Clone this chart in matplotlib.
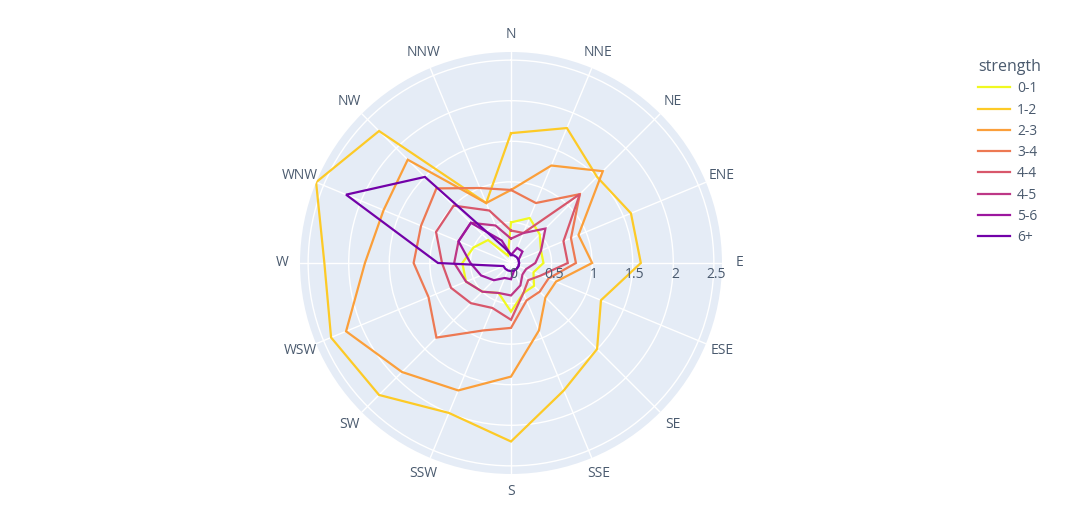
import numpy as np
import matplotlib
matplotlib.use("Agg")
import matplotlib.pyplot as plt
from matplotlib.transforms import offset_copy

# wind rose data (frequency per direction, one list per strength class)
directions = ["N", "NNE", "NE", "ENE", "E", "ESE", "SE", "SSE",
              "S", "SSW", "SW", "WSW", "W", "WNW", "NW", "NNW"]
strengths = ["0-1", "1-2", "2-3", "3-4", "4-4", "4-5", "5-6", "6+"]

freq_0_1 = [0.5, 0.6, 0.5, 0.4, 0.4, 0.3, 0.4, 0.4, 0.6, 0.4, 0.5, 0.6, 0.6, 0.5, 0.4, 0.1]
freq_1_2 = [1.6, 1.8, 1.5, 1.6, 1.6, 1.2, 1.5, 1.7, 2.2, 2.0, 2.3, 2.4, 2.3, 2.6, 2.3, 0.8]
freq_2_3 = [0.9, 1.3, 1.6, 0.9, 1.0, 0.6, 0.6, 0.9, 1.4, 1.7, 1.9, 2.2, 1.8, 1.7, 1.8, 0.8]
freq_3_4 = [0.9, 0.8, 1.2, 0.8, 0.8, 0.5, 0.5, 0.5, 0.8, 0.9, 1.3, 1.1, 1.2, 1.2, 1.3, 1.0]
freq_4_4 = [0.4, 0.4, 1.2, 0.7, 0.7, 0.4, 0.3, 0.4, 0.7, 0.6, 0.7, 0.8, 0.85, 1.0, 1.0, 0.7]
freq_4_5 = [0.3, 0.4, 0.6, 0.4, 0.3, 0.2, 0.2, 0.3, 0.4, 0.4, 0.5, 0.6, 0.7, 0.7, 0.7, 0.5]
freq_5_6 = [0.1, 0.2, 0.2, 0.1, 0.1, 0.1, 0.1, 0.1, 0.2, 0.2, 0.3, 0.4, 0.5, 0.7, 0.7, 0.3]
freq_6p = [0.1, 0.1, 0.1, 0.1, 0.1, 0.1, 0.1, 0.1, 0.1, 0.1, 0.1, 0.1, 0.9, 2.2, 1.5, 0.2]

series = [freq_0_1, freq_1_2, freq_2_3, freq_3_4, freq_4_4, freq_4_5, freq_5_6, freq_6p]
colors = ["#f0f921", "#fdca26", "#fb9f3a", "#ed7953", "#d8576b", "#bd3786", "#9c179e", "#7201a8"]

r_ticks = [0, 0.5, 1, 1.5, 2, 2.5]
r_labels = ["0", "0.5", "1", "1.5", "2", "2.5"]

text_color = "#4a5a6e"
plt.rcParams["font.family"] = ["Open Sans", "DejaVu Sans"]

fig = plt.figure(figsize=(10.8, 5.23), dpi=100)
ax = fig.add_axes([0.2778, 0.0937, 0.3907, 0.8069], projection="polar")
ax.set_facecolor("#E5ECF6")
ax.set_theta_zero_location("N")
ax.set_theta_direction(-1)

theta = np.deg2rad(np.arange(len(directions)) * 22.5)
theta_closed = np.append(theta, theta[0])

for name, vals, col in zip(strengths, series, colors):
    r = np.append(vals, vals[0])
    ax.plot(theta_closed, r, color=col, lw=1.6, label=name, solid_joinstyle="miter")

ax.set_ylim(0, 2.6)
ax.set_xticks(theta)
ax.set_xticklabels(directions, color=text_color, fontsize=10)
ax.tick_params(axis="x", pad=2)
ax.set_yticks(r_ticks[1:])
ax.set_yticklabels([])
ax.grid(color="white", lw=1)
ax.spines["polar"].set_visible(False)

# radial tick labels sit under the east-pointing radius, like plotly
lab_tr = offset_copy(ax.transData, fig=fig, x=2, y=-12, units="dots")
for rv, lab in zip(r_ticks, r_labels):
    ax.text(np.pi / 2, rv, lab, transform=lab_tr, ha="center", va="center",
            color=text_color, fontsize=10)

leg = ax.legend(loc="upper left", bbox_to_anchor=(0.894, 0.911), bbox_transform=fig.transFigure,
                frameon=False, title="strength", fontsize=10, handlelength=2.3,
                handletextpad=0.5, labelspacing=0.45, alignment="left")
leg.get_title().set_color(text_color)
leg.get_title().set_fontsize(11.5)
for t in leg.get_texts():
    t.set_color(text_color)

fig.savefig("out.png", dpi=100)
